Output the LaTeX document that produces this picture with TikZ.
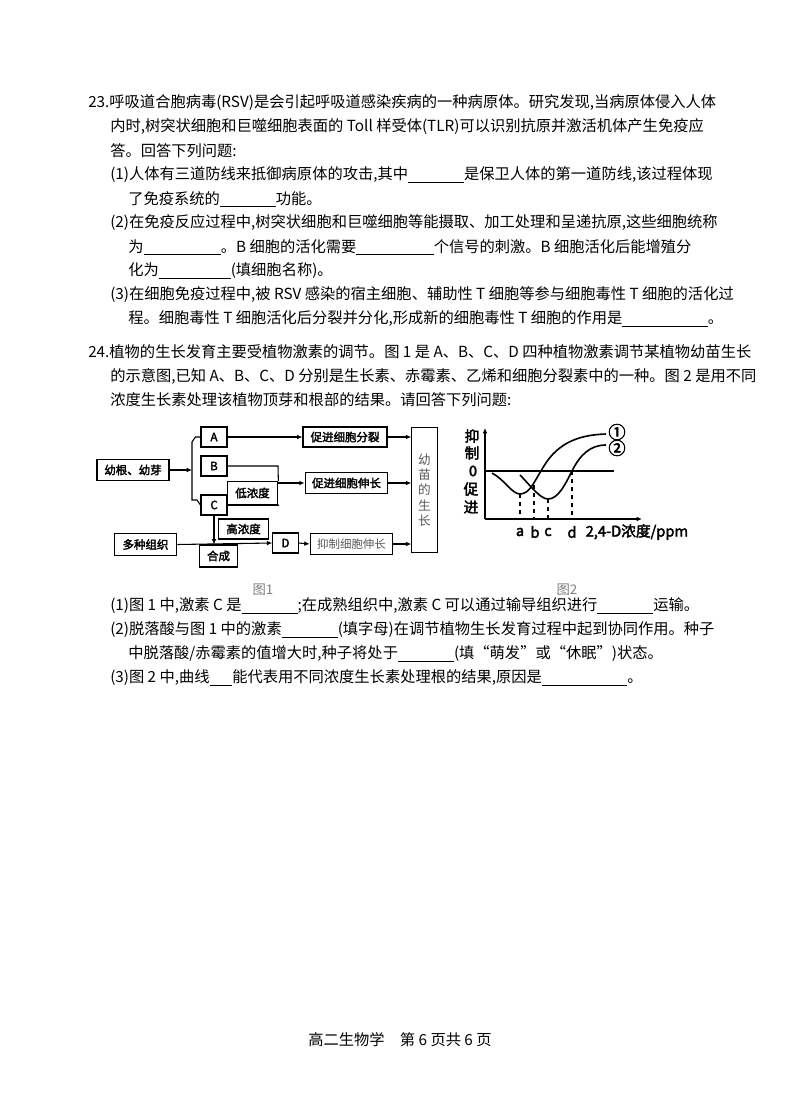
\documentclass[tikz,border=0pt]{standalone}
\usepackage{fontspec}
\setmainfont{Noto Sans CJK SC}[AutoFakeBold=2.5]
\usetikzlibrary{arrows.meta}
\newcommand{\blank}[1]{\underline{\makebox[#1pt]{}}}
\begin{document}
\begin{tikzpicture}[x=0.75pt,y=-0.75pt,
  ln/.style={anchor=west,inner sep=0pt,font=\fontsize{11.45}{13}\selectfont},
  bx/.style={draw,thick,inner sep=0pt,font=\fontsize{8.6}{9}\selectfont\bfseries},
  ar/.style={-{Latex[length=4pt,width=3.5pt]},thick},
  pl/.style={thick}]
\useasboundingbox (0,0) rectangle (800,1114);
\fill[white] (0,0) rectangle (800,1114);
\node[ln] (l1) at (88,103) {23.呼吸道合胞病毒(RSV)是会引起呼吸道感染疾病的一种病原体。研究发现,当病原体侵入人体};
\node[ln] (l2) at (110,127) {内时,树突状细胞和巨噬细胞表面的 Toll 样受体(TLR)可以识别抗原并激活机体产生免疫应};
\node[ln] (l3) at (110,151) {答。回答下列问题:};
\node[ln] (l4) at (110,175) {(1)人体有三道防线来抵御病原体的攻击,其中\blank{42}是保卫人体的第一道防线,该过程体现};
\node[ln] (l5) at (128,199) {了免疫系统的\blank{42}功能。};
\node[ln] (l6) at (110,223) {(2)在免疫反应过程中,树突状细胞和巨噬细胞等能摄取、加工处理和呈递抗原,这些细胞统称};
\node[ln] (l7) at (128,247) {为\blank{58}。B 细胞的活化需要\blank{58}个信号的刺激。B 细胞活化后能增殖分};
\node[ln] (l8) at (128,271) {化为\blank{54}(填细胞名称)。};
\node[ln] (l9) at (110,295) {(3)在细胞免疫过程中,被 RSV 感染的宿主细胞、辅助性 T 细胞等参与细胞毒性 T 细胞的活化过};
\node[ln] (l10) at (128,319) {程。细胞毒性 T 细胞活化后分裂并分化,形成新的细胞毒性 T 细胞的作用是\blank{64}。};
\node[ln] (m1) at (88,352) {24.植物的生长发育主要受植物激素的调节。图 1 是 A、B、C、D 四种植物激素调节某植物幼苗生长};
\node[ln] (m2) at (110,376) {的示意图,已知 A、B、C、D 分别是生长素、赤霉素、乙烯和细胞分裂素中的一种。图 2 是用不同};
\node[ln] (m3) at (110,400) {浓度生长素处理该植物顶芽和根部的结果。请回答下列问题:};
\node[ln,anchor=center,font=\fontsize{10}{12}\selectfont,text=gray] (f1) at (263,590) {图1};
\node[ln,anchor=center,font=\fontsize{10}{12}\selectfont,text=gray] (f2) at (567,590) {图2};
\node[ln] (n1) at (110,606) {(1)图 1 中,激素 C 是\blank{42};在成熟组织中,激素 C 可以通过输导组织进行\blank{42}运输。};
\node[ln] (n2) at (110,630) {(2)脱落酸与图 1 中的激素\blank{42}(填字母)在调节植物生长发育过程中起到协同作用。种子};
\node[ln] (n3) at (128,654) {中脱落酸/赤霉素的值增大时,种子将处于\blank{42}(填“萌发”或“休眠”)状态。};
\node[ln] (n4) at (110,678) {(3)图 2 中,曲线\blank{17}能代表用不同浓度生长素处理根的结果,原因是\blank{64}。};
\node[ln,anchor=center] (ft) at (400,1040) {高二生物学\quad 第 6 页共 6 页};
% Figure 1
\node[bx,minimum width=54pt,minimum height=16pt] (yg) at (133,470) {幼根、幼芽};
\node[bx,minimum width=19.5pt,minimum height=15pt] (A) at (214,437) {A};
\node[bx,minimum width=19.5pt,minimum height=15pt] (B) at (214,466) {B};
\node[bx,minimum width=19.5pt,minimum height=15pt] (C) at (214,505) {C};
\node[bx,minimum width=38pt,minimum height=17pt] (low) at (252.5,493) {低浓度};
\node[bx,minimum width=63pt,minimum height=15pt] (p1) at (345,437) {促进细胞分裂};
\node[bx,minimum width=62pt,minimum height=15.5pt] (p2) at (346.5,483) {促进细胞伸长};
\node[draw,thick,minimum width=19pt,minimum height=94pt,inner sep=0pt,font=\fontsize{9.5}{11.5}\selectfont,text=gray!70!black,align=center] (ym) at (424.5,490) {幼\\苗\\的\\生\\长};
\node[bx,minimum width=47pt,minimum height=16pt] (dz) at (145.5,544.5) {多种组织};
\node[bx,minimum width=29pt,minimum height=16.5pt] (hc) at (218.5,556) {合成};
\node[bx,minimum width=38pt,minimum height=15pt] (high) at (243.5,529) {高浓度};
\node[bx,minimum width=19pt,minimum height=15pt] (D) at (285.5,543) {D};
\node[draw,thick,minimum width=62pt,minimum height=16pt,inner sep=0pt,font=\fontsize{8.6}{9}\selectfont,text=gray!70!black] (yz) at (351.5,544) {抑制细胞伸长};
\coordinate (br) at (192,470);
\draw[ar] (yg.east) -- (br);
\draw[pl] (A.west) -- ++(-5,0) -- (192,442) -- (192,500) -- ++(5,0) -- (C.west);
\draw[ar] (A.east) -- (p1.west);
\draw[ar] (p1.east) -- (ym.west |- p1.east);
\draw[pl] (B.east) -- (278,466) -- (low.north east);
\draw[pl] (C.east) -- (C.east -| low.east) -- (low.south east);
\draw[ar] (low.east |- p2.west) -- (p2.west);
\draw[ar] (p2.east) -- (ym.west |- p2.east);
\draw[ar] (C.south) -- (C.south |- hc.north);
\draw[ar] (dz.east) -- (D.west);
\draw[ar] (D.east) -- (yz.west);
\draw[ar] (yz.east) -- (ym.west |- yz.east);
% Figure 2
\coordinate (O) at (485,519);
\draw[ar] (O) -- (485,428);
\draw[ar] (O) -- (642,519);
\draw[very thick] (485,471) -- (614,471);
\begin{scope}[font=\fontsize{11}{12}\selectfont\bfseries]
\node (y1) at (472,436) {抑};
\node (y2) at (472,453) {制};
\node (y0) at (473,471) {0};
\node (y3) at (471,489) {促};
\node (y4) at (471,507) {进};
\node (xa) at (520,532) {a};
\node (xb) at (535,532) {b};
\node (xc) at (548,532) {c};
\node (xd) at (572,532) {d};
\node[anchor=west] (xl) at (581,532) {2,4-D浓度/ppm};
\node[font=\fontsize{13}{14}\selectfont\bfseries] (c1) at (617,432) {①};
\node[font=\fontsize{13}{14}\selectfont\bfseries] (c2) at (617,448) {②};
\end{scope}
\draw[very thick] (492,473) .. controls (505,480) and (512,494) .. (520,494) .. controls (530,494) and (535,480) .. (541,471) .. controls (555,445) and (575,435) .. (606,434);
\draw[very thick] (520,475) .. controls (530,485) and (540,499) .. (548,499) .. controls (558,499) and (565,485) .. (572,471) .. controls (580,455) and (590,445) .. (606,445);
\draw[thick,dashed] (520,494) -- (520,519);
\draw[thick,dashed] (534,485) -- (534,519);
\draw[thick,dashed] (548,499) -- (548,519);
\draw[thick,dashed] (572,471) -- (572,519);
\end{tikzpicture}
\end{document}
